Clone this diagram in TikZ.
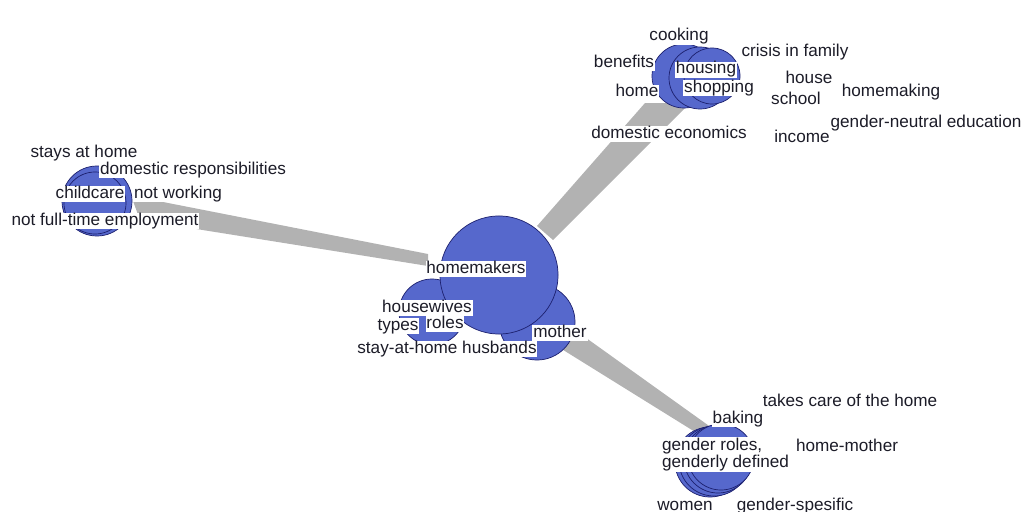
\documentclass[tikz,border=0pt]{standalone}
\usepackage{fontspec}
\setmainfont{Liberation Sans}

\definecolor{blobblue}{RGB}{86,104,204}
\definecolor{rimblue}{RGB}{28,32,110}
\definecolor{bandgray}{RGB}{178,178,178}
\definecolor{ink}{RGB}{28,28,40}

\begin{document}
\begin{tikzpicture}[
    x=0.025cm, y=-0.025cm,
    band/.style={fill=bandgray, draw=none},
    blob/.style={circle, draw=rimblue, line width=0.5pt, fill=blobblue, inner sep=0pt},
    tag/.style={fill=white, inner sep=0.6pt, text=ink, font=\fontsize{12.2}{14}\selectfont},
    term/.style={tag, text height=0.76em, text depth=0.22em, anchor=base}
]

\useasboundingbox (0,0) rectangle (1031,512);

% Band ends
\coordinate (lw1) at (133,201);
\coordinate (lw2) at (163,202);
\coordinate (lw3) at (428,254);
\coordinate (lw4) at (428,266);
\coordinate (lw5) at (140,220);
\coordinate (tp1) at (537,226);
\coordinate (tp2) at (645,103);
\coordinate (tp3) at (690,103);
\coordinate (tp4) at (553,240);
\coordinate (bt1) at (575,330);
\coordinate (bt2) at (712,428);
\coordinate (bt3) at (700,435);
\coordinate (bt4) at (560,348);

% Bands between the clusters
\fill[band] (lw1) -- (lw2) -- (lw3) -- (lw4) -- (lw5) -- cycle;
\fill[band] (tp1) -- (tp2) -- (tp3) -- (tp4) -- cycle;
\fill[band] (bt1) -- (bt2) -- (bt3) -- (bt4) -- cycle;

% Left cluster
\node[blob, minimum size=1.75cm] (careA) at (97,201) {};
\node[blob, minimum size=1.55cm] (careB) at (95,203) {};

% Central cluster
\node[blob, minimum size=1.65cm] (wives) at (432,312) {};
\node[blob, minimum size=1.9cm] (mom) at (537,322) {};
\node[blob, minimum size=2.95cm] (hub) at (499,275) {};

% Top cluster
\node[blob, minimum size=1.6cm] (ecoA) at (684,76) {};
\node[blob, minimum size=1.55cm] (ecoB) at (700,78) {};
\node[blob, minimum size=1.4cm] (ecoC) at (712,76) {};

% Bottom cluster
\node[blob, minimum size=1.75cm] (genA) at (710,462) {};
\node[blob, minimum size=1.75cm] (genB) at (714,461) {};
\node[blob, minimum size=1.7cm] (genC) at (718,459) {};
\node[blob, minimum size=1.65cm] (genD) at (721,457) {};

% Left cluster terms
\node[term] (stays) at (84,157) {stays at home};
\node[term] (duties) at (193,174) {domestic responsibilities};
\node[term] (child) at (90,198) {childcare};
\node[term] (notwork) at (178,198) {not working};
\node[term] (parttime) at (105,225) {not full-time employment};

% Central cluster terms
\node[term] (makers) at (476,273) {homemakers};
\node[term] (housew) at (427,312) {housewives};
\node[term] (types) at (398,330) {types};
\node[term] (roles) at (445,328) {roles};
\node[term] (mother) at (560,337) {mother};
\node[term] (husb) at (447,353) {stay-at-home husbands};

% Top cluster terms
\node[term] (cook) at (679,41) {cooking};
\node[term] (benef) at (624,67) {benefits};
\node[term] (crisis) at (795,57) {crisis in family};
\node[term] (housing) at (706,74) {housing};
\node[term] (shop) at (719,92) {shopping};
\node[term] (home) at (637,97) {home};
\node[term] (house) at (809,83) {house};
\node[term] (school) at (796,105) {school};
\node[term] (making) at (891,96) {homemaking};
\node[term] (neutral) at (926,127) {gender-neutral education};
\node[term] (domeco) at (669,138) {domestic economics};
\node[term] (income) at (802,142) {income};

% Bottom cluster terms
\node[term] (takes) at (850,406) {takes care of the home};
\node[term] (baking) at (738,423) {baking};
\node[tag, align=left, anchor=north west, font=\fontsize{12.2}{12.4}\selectfont] (genroles) at (661,437) {gender roles,\\genderly defined};
\node[term] (homemom) at (847,451) {home-mother};
\node[term] (women) at (685,510) {women};
\node[term] (spesific) at (795,510) {gender-spesific};

\end{tikzpicture}
\end{document}
